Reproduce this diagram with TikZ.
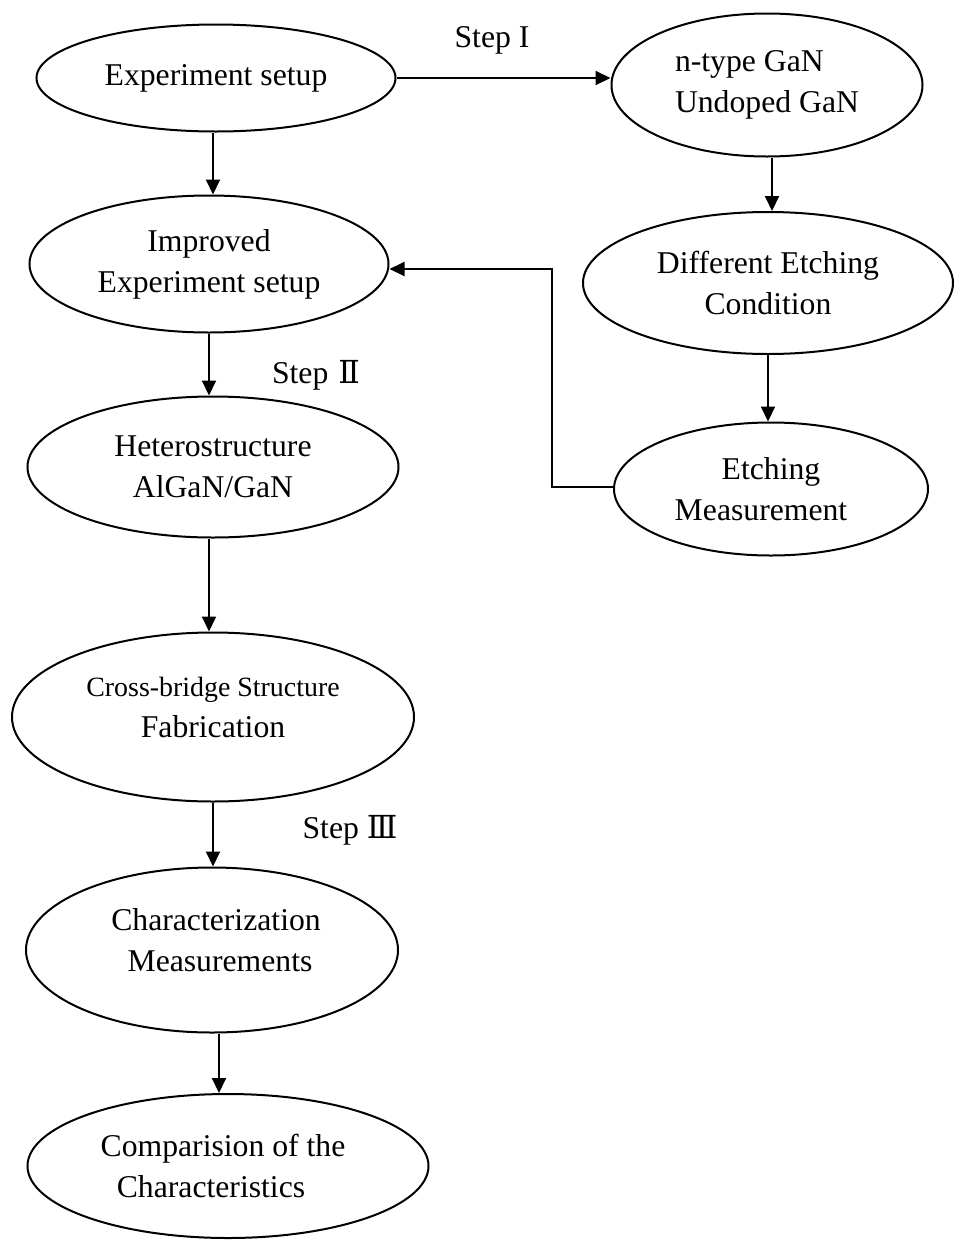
\documentclass[tikz,border=0pt]{standalone}
\usepackage{fontspec}
\setmainfont{Liberation Serif}
\newfontfamily\numeralfont{DejaVu Serif}
\usetikzlibrary{shapes.geometric,arrows.meta}
\begin{document}
\begin{tikzpicture}[x=1pt,y=-1pt,
  stage/.style={draw, ellipse, line width=2pt, inner sep=0pt, align=center,
    font=\fontsize{31.7}{41}\selectfont},
  flow/.style={line width=2pt, -{Triangle[length=15pt,width=14pt]}},
  steplabel/.style={font=\fontsize{31.7}{41}\selectfont}]

  % Fix the page to the size of the reference
  \useasboundingbox (0,0) rectangle (957,1240);

  % Left column of stages
  \node[stage, minimum width=359pt, minimum height=107pt] (setup) at (216,78) {Experiment setup};
  \node[stage, minimum width=359pt, minimum height=137pt] (improved) at (209,264) {Improved\\Experiment setup};
  \node[stage, minimum width=371pt, minimum height=141pt] (hetero) at (213,467) {Heterostructure\\AlGaN/GaN};
  \node[stage, minimum width=402pt, minimum height=169pt] (crossbridge) at (213,717)
    {{\fontsize{27.9}{41}\selectfont Cross-bridge Structure}\\Fabrication\hspace*{16pt}\\[-21pt]\mbox{}};
  \node[stage, minimum width=372pt, minimum height=165pt] (charact) at (212,950)
    {\hspace*{8pt}Characterization\\\hspace*{16pt}Measurements\\[-21pt]\mbox{}};
  \node[stage, minimum width=401pt, minimum height=144pt] (compare) at (228,1166)
    {Comparision of the\hspace*{10pt}\\Characteristics\hspace*{34pt}};

  % Right column of stages
  \node[stage, align=left, minimum width=311pt, minimum height=143pt] (ntype) at (767,85) {n-type GaN\\Undoped GaN};
  \node[stage, minimum width=370pt, minimum height=142pt] (etchcond) at (768,283) {Different Etching\\Condition};
  \node[stage, minimum width=314pt, minimum height=133pt] (etchmeas) at (771,489) {Etching\\Measurement\hspace*{20pt}};

  % Step labels
  \node[steplabel] (stepone) at (492,40) {Step I};
  \node[steplabel] (steptwo) at (316,375) {Step\hspace{10pt}{\numeralfont Ⅱ}};
  \node[steplabel] (stepthree) at (350,830) {Step {\numeralfont Ⅲ}};

  % Arrows of the main flow
  \draw[flow] (setup.east) -- (setup.east -| ntype.west);
  \draw[flow] ([xshift=-3pt]setup.south) -- ([xshift=-3pt]setup.south |- improved.north);
  \draw[flow] (improved.south) -- (improved.south |- hetero.north);
  \draw[flow] ([xshift=-4pt]hetero.south) -- ([xshift=-4pt]hetero.south |- crossbridge.north);
  \draw[flow] (crossbridge.south) -- (crossbridge.south |- charact.north);
  \draw[flow] ([xshift=7pt]charact.south) -- ([xshift=7pt]charact.south |- compare.north);

  % Arrows of the etching branch
  \draw[flow] ([xshift=5pt]ntype.south) -- ([xshift=5pt]ntype.south |- etchcond.north);
  \draw[flow] (etchcond.south) -- (etchcond.south |- etchmeas.north);

  % Feedback from the etching measurement
  \coordinate (backcorner) at (552,487);
  \coordinate (backtop) at (552,269);
  \draw[flow] (etchmeas.west |- backcorner) -- (backcorner) -- (backtop) -- (backtop -| improved.east);

\end{tikzpicture}
\end{document}
